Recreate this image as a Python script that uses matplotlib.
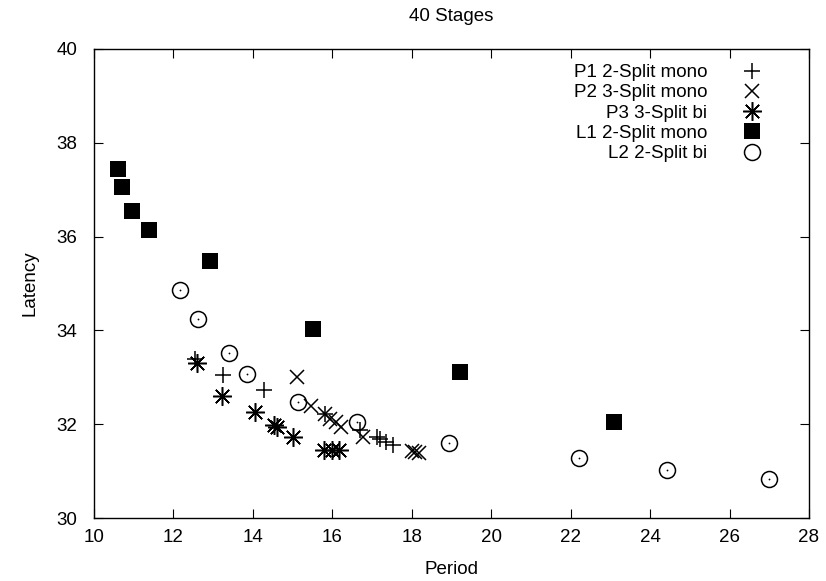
import matplotlib
matplotlib.use("Agg")
import matplotlib.pyplot as plt

plt.rcParams['font.family'] = ['Liberation Sans', 'DejaVu Sans']

# Data
p1_x = [12.55, 13.26, 14.29, 15.82, 16.70, 17.12, 17.20, 17.35, 17.52]
p1_y = [33.38, 33.05, 32.74, 32.22, 31.87, 31.72, 31.69, 31.62, 31.56]

p2_x = [15.10, 15.46, 15.82, 15.95, 16.08, 16.22, 16.78, 18.00, 18.08, 18.18]
p2_y = [33.00, 32.39, 32.22, 32.12, 32.04, 31.95, 31.72, 31.43, 31.41, 31.39]

p3_x = [12.60, 13.22, 14.05, 14.52, 14.60, 15.00, 15.78, 15.98, 16.16]
p3_y = [33.30, 32.60, 32.27, 31.98, 31.93, 31.72, 31.46, 31.46, 31.46]

l1_x = [10.60, 10.70, 10.96, 11.38, 12.92, 15.51, 19.21, 23.08]
l1_y = [37.44, 37.06, 36.55, 36.15, 35.49, 34.03, 33.11, 32.05]

l2_x = [12.16, 12.63, 13.39, 13.85, 15.14, 16.63, 18.94, 22.21, 24.43, 26.99]
l2_y = [34.87, 34.24, 33.52, 33.06, 32.47, 32.05, 31.61, 31.27, 31.03, 30.84]

labels = ["P1 2-Split mono", "P2 3-Split mono", "P3 3-Split bi",
          "L1 2-Split mono", "L2 2-Split bi"]
x_ticks = [10, 12, 14, 16, 18, 20, 22, 24, 26, 28]
y_ticks = [30, 32, 34, 36, 38, 40]

FS = 13.5

fig = plt.figure(figsize=(8.26, 5.81), dpi=100)
ax = fig.add_axes([0.1138, 0.1084, 0.8656, 0.8073])

mew = 1.1
ax.plot(p1_x, p1_y, linestyle='none', marker='+', markersize=12,
        markeredgewidth=mew, color='black', label=labels[0])
ax.plot(p2_x, p2_y, linestyle='none', marker='x', markersize=10.5,
        markeredgewidth=mew, color='black', label=labels[1])
ax.plot(p3_x, p3_y, linestyle='none', marker=(8, 2, 0), markersize=13.5,
        markeredgewidth=mew, color='black', label=labels[2])
ax.plot(l1_x, l1_y, linestyle='none', marker='s', markersize=11.5,
        markeredgewidth=0, color='black', label=labels[3])
ax.plot(l2_x, l2_y, linestyle='none', marker='o', markersize=11.5,
        markeredgewidth=mew, markerfacecolor='none',
        markeredgecolor='black', label=labels[4])
ax.plot(l2_x, l2_y, linestyle='none', marker='o', markersize=1.3,
        markeredgewidth=0, color='black')

ax.set_xlim(10, 28)
ax.set_ylim(30, 40)
ax.set_xticks(x_ticks)
ax.set_yticks(y_ticks)
ax.tick_params(direction='in', length=6.5, width=0.8, top=True, right=True,
               labelsize=FS)
ax.tick_params(axis='x', pad=8)
ax.tick_params(axis='y', pad=12)
for s in ax.spines.values():
    s.set_linewidth(1.0)

ax.set_xlabel("Period", fontsize=FS, labelpad=11)
ax.set_ylabel("Latency", fontsize=FS, labelpad=13)
ax.set_title("40 Stages", fontsize=FS, pad=20)

ax.legend(loc='upper right', bbox_to_anchor=(0.968, 1.0),
          frameon=False, markerfirst=False, fontsize=FS,
          handlelength=2.0, handletextpad=1.4, labelspacing=0.17,
          borderpad=0.3)

fig.savefig("out.png", dpi=100)
